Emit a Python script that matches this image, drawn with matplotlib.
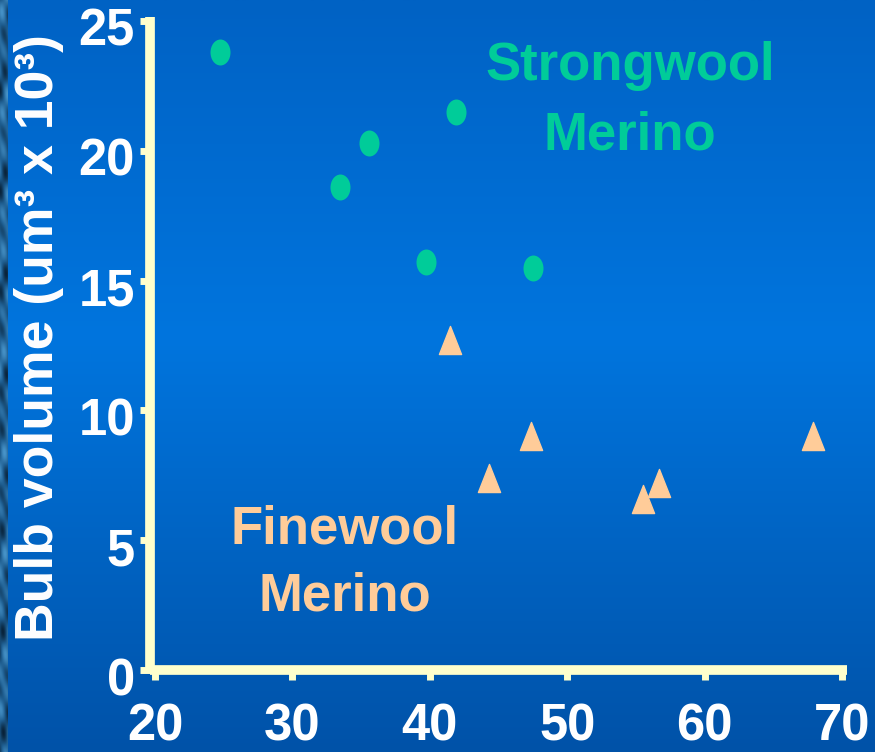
import numpy as np
import matplotlib
matplotlib.use("Agg")
import matplotlib.pyplot as plt
from matplotlib.path import Path
from matplotlib.transforms import Affine2D, ScaledTranslation
from matplotlib.colors import LinearSegmentedColormap

# fibre diameter (um) vs bulb volume (um^3 x 10^3)
strong_x = [24.7, 33.5, 35.6, 41.9, 39.7, 47.5]
strong_y = [23.8, 18.6, 20.3, 21.5, 15.7, 15.5]
fine_x = [41.5, 47.4, 44.3, 56.7, 55.5, 67.9]
fine_y = [12.7, 9.0, 7.4, 7.2, 6.6, 9.0]
x_ticks = [20, 30, 40, 50, 60, 70]
y_ticks = [0, 5, 10, 15, 20, 25]

W, H = 875, 752
fig = plt.figure(figsize=(W / 100, H / 100), dpi=100)

# slide background: vertical blue gradient with a dark textured strip on the left
bg = fig.add_axes([0, 0, 1, 1], zorder=-10)
bg.set_axis_off()
grad_cmap = LinearSegmentedColormap.from_list(
    "slide", [(0.0, "#0062C4"), (0.45, "#0075DE"), (1.0, "#0052A8")])
grad = np.linspace(0, 1, 256).reshape(-1, 1)
bg.imshow(grad, cmap=grad_cmap, aspect="auto", extent=[0, W, H, 0])
yy, xx = np.mgrid[0:H, 0:8]
tex = (0.5 + 0.3 * np.sin(yy / 11.0 + xx / 3.0) * np.cos(yy / 29.0)
       + 0.15 * np.sin(yy / 5.3 - xx / 2.0))
strip_cmap = LinearSegmentedColormap.from_list("strip", ["#061C30", "#1F5E90", "#4C9AD0"])
bg.imshow(tex, cmap=strip_cmap, aspect="auto", extent=[0, 8, H, 0], vmin=0, vmax=1,
          interpolation="bilinear")
bg.set_xlim(0, W)
bg.set_ylim(H, 0)

ax = fig.add_axes([150 / W, (H - 670) / H, 697 / W, 653 / H])
ax.set_facecolor("none")

ellipse = Affine2D().scale(0.77, 1.0).transform_path(Path.unit_circle())
tri = Path([(0, 1), (-0.79, -1), (0.79, -1), (0, 1)],
           [Path.MOVETO, Path.LINETO, Path.LINETO, Path.CLOSEPOLY])

ax.plot(strong_x, strong_y, linestyle="none", marker=ellipse, markersize=18.7,
        color="#00CC99", markeredgewidth=0)
ax.plot(fine_x, fine_y, linestyle="none", marker=tri, markersize=20.2,
        color="#FFCC99", markeredgecolor="#FFCC99", markeredgewidth=1)

ax.set_xlim(19.64, 70.36)
ax.set_ylim(0, 25.15)
ax.set_xticks(x_ticks)
ax.set_yticks(y_ticks)

axis_col = "#FFFFCC"
for side in ["top", "right"]:
    ax.spines[side].set_visible(False)
for side in ["left", "bottom"]:
    ax.spines[side].set_color(axis_col)
    ax.spines[side].set_linewidth(7)
    ax.spines[side].set_capstyle("butt")

ax.tick_params(axis="both", direction="out", length=7.2, width=5, color=axis_col,
               labelcolor="white", labelsize=36.5)
ax.tick_params(axis="y", pad=3.6)
ax.tick_params(axis="x", pad=16)
for lab in ax.get_xticklabels() + ax.get_yticklabels():
    lab.set_fontweight("bold")
    lab.set_family("Liberation Sans")
for lab in ax.get_yticklabels():
    lab.set_transform(lab.get_transform() + ScaledTranslation(0, -0.06, fig.dpi_scale_trans))

fig.text(14 / W, 1 - 338 / H, "Bulb volume (um\u00b3 x 10\u00b3)", rotation=90,
         ha="left", va="center", color="white", fontsize=38.5, fontweight="bold",
         family="Liberation Sans")

fig.text(630 / W, 1 - 41 / H, "Strongwool\nMerino", ha="center", va="top",
         color="#00CC99", fontsize=38, fontweight="bold", family="Liberation Sans",
         linespacing=1.5, multialignment="center")
fig.text(345 / W, 1 - 505 / H, "Finewool\nMerino", ha="center", va="top",
         color="#FFCC99", fontsize=38, fontweight="bold", family="Liberation Sans",
         linespacing=1.42, multialignment="center")

fig.savefig("out.png", dpi=100)
